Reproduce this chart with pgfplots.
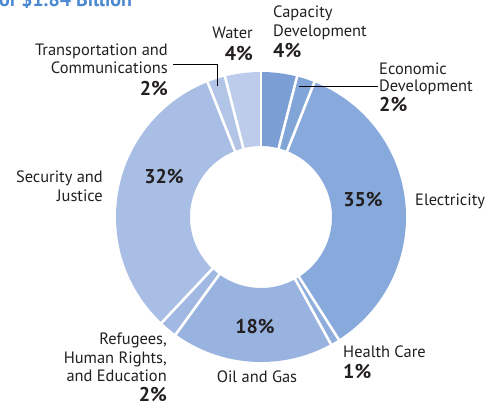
\documentclass[border=0pt]{standalone}
\usepackage{pgfplots}
\pgfplotsset{compat=1.18}
\usepackage{fontspec}
\setmainfont{PT Sans}
\definecolor{c1}{HTML}{7B9FD4}
\definecolor{c2}{HTML}{82A5D8}
\definecolor{c3}{HTML}{88A9DB}
\definecolor{c4}{HTML}{90AEDD}
\definecolor{c5}{HTML}{99B3E0}
\definecolor{c6}{HTML}{A0B8E2}
\definecolor{c7}{HTML}{A9BEE4}
\definecolor{c8}{HTML}{B3C5E7}
\definecolor{c9}{HTML}{BCCCEA}
\definecolor{txt}{HTML}{231F20}
\definecolor{ttl}{HTML}{4A89D2}
% segment: cumulative start %, cumulative end %, colour
\newcommand{\seg}[3]{\addplot[draw=#3, line width=74bp, line cap=butt, domain=#1:#2, samples=80, smooth]
  ({261+108*sin(3.6*x)},{217-108*cos(3.6*x)});}
\newcommand{\gap}[1]{\addplot[draw=white, line width=2.6bp, domain=66:150, samples=2]
  ({261+x*sin(3.6*#1)},{217-x*cos(3.6*#1)});}
\begin{document}
\begin{tikzpicture}[
  lab/.style={font=\fontsize{16.5}{18}\selectfont, text=txt, inner sep=0pt},
  pct/.style={font=\fontsize{20}{20}\selectfont\bfseries, text=txt, inner sep=0pt}]
\begin{axis}[name=ax, at={(0,0)}, anchor=south west, scale only axis,
  width=494bp, height=406bp, xmin=0, xmax=494, ymin=0, ymax=406, y dir=reverse,
  hide axis, clip=false]
% shares (%): Capacity 4, Economic 2, Electricity 35, Health 1, Oil 18, Refugees 2, Security 32, Transport 2, Water 4
\seg{0}{4}{c1}
\seg{4}{6}{c2}
\seg{6}{41}{c3}
\seg{41}{42}{c4}
\seg{42}{60}{c5}
\seg{60}{62}{c6}
\seg{62}{94}{c7}
\seg{94}{96}{c8}
\seg{96}{100}{c9}
\gap{0}\gap{4}\gap{6}\gap{41}\gap{42}\gap{60}\gap{62}\gap{94}\gap{96}
% leader lines
\addplot[draw=black, line width=0.8bp] coordinates {(299,86) (378,86)};
\addplot[draw=black, line width=0.8bp] coordinates {(173,64) (217,64) (217,86)};
% title (cut off at the top, as in the reference)
\node[anchor=base west, inner sep=0pt, text=ttl, font=\fontsize{20}{20}\selectfont\bfseries] at (axis cs:-1,6.5) {of \$1.84 Billion};
% labels
\node[lab, anchor=base west] at (axis cs:273,18) {Capacity};
\node[lab, anchor=base west] at (axis cs:273,36) {Development};
\node[pct, anchor=base west] at (axis cs:273,57) {4\%};
\node[lab, anchor=base west] at (axis cs:379,74) {Economic};
\node[lab, anchor=base west] at (axis cs:379,91) {Development};
\node[pct, anchor=base west] at (axis cs:379,111) {2\%};
\node[lab, anchor=base east] at (axis cs:253,38) {Water};
\node[pct, anchor=base east] at (axis cs:253,60) {4\%};
\node[lab, anchor=base east] at (axis cs:168,55) {Transportation and};
\node[lab, anchor=base east] at (axis cs:168,73) {Communications};
\node[pct, anchor=base east] at (axis cs:168,95) {2\%};
\node[lab, anchor=base east] at (axis cs:103,182) {Security and};
\node[lab, anchor=base east] at (axis cs:103,201) {Justice};
\node[pct, anchor=base] at (axis cs:164,183) {32\%};
\node[pct, anchor=base] at (axis cs:363,206) {35\%};
\node[lab, anchor=base west] at (axis cs:415,205) {Electricity};
\node[lab, anchor=base west] at (axis cs:343,357) {Health Care};
\node[pct, anchor=base west] at (axis cs:343,378) {1\%};
\node[pct, anchor=base] at (axis cs:255,333) {18\%};
\node[lab, anchor=base] at (axis cs:257,382) {Oil and Gas};
\node[lab, anchor=base east] at (axis cs:167,344) {Refugees,};
\node[lab, anchor=base east] at (axis cs:167,363) {Human Rights,};
\node[lab, anchor=base east] at (axis cs:167,381) {and Education};
\node[pct, anchor=base east] at (axis cs:167,401) {2\%};
\end{axis}
\pgfresetboundingbox
\path (ax.south west) rectangle (ax.north east);
\end{tikzpicture}
\end{document}
